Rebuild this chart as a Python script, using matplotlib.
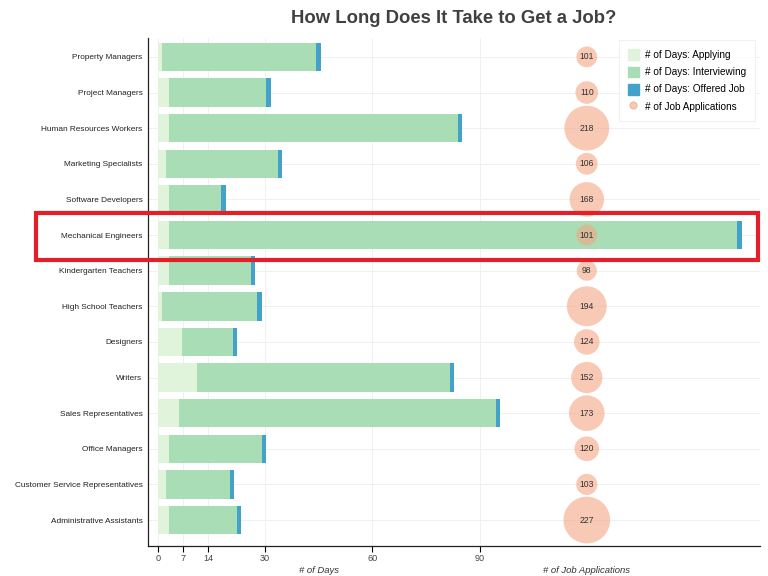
import matplotlib
matplotlib.use("Agg")
import matplotlib.pyplot as plt
import matplotlib.transforms as mtransforms
from matplotlib.patches import Rectangle, Patch
from matplotlib.lines import Line2D

plt.rcParams["font.family"] = ["Liberation Sans", "DejaVu Sans"]

# datos
jobs = ["Property Managers", "Project Managers", "Human Resources Workers",
        "Marketing Specialists", "Software Developers", "Mechanical Engineers",
        "Kindergarten Teachers", "High School Teachers", "Designers", "Writers",
        "Sales Representatives", "Office Managers",
        "Customer Service Representatives", "Administrative Assistants"]
applying = [1, 3, 3, 2.2, 3, 3, 3, 1, 6.7, 11, 6, 3, 2.2, 3]
interviewing = [43.3, 27.3, 81, 31.4, 14.7, 159, 23, 26.8, 14.3, 70.6, 88.5, 26, 18, 19]
offered = [1.2, 1.2, 1.2, 1.2, 1.2, 1.3, 1.2, 1.2, 1.2, 1.2, 1.2, 1.1, 1.1, 1.2]
applications = [101, 110, 218, 106, 168, 101, 98, 194, 124, 152, 173, 120, 103, 227]
apps_x = 120          # posición de la columna de burbujas (en días)
days_ticks = [0, 7, 14, 30, 60, 90]
highlight = "Mechanical Engineers"

c_apply = "#e0f3db"
c_interv = "#a8ddb5"
c_offer = "#43a2ca"
c_bubble = "#f4a582"

fig = plt.figure(figsize=(7.68, 5.76), dpi=100)
ax = fig.add_axes([0.1927, 0.052, 0.797, 0.882])

y = list(range(len(jobs)))
left2 = [a for a in applying]
left3 = [a + b for a, b in zip(applying, interviewing)]
h = 0.8
ax.barh(y, applying, height=h, color=c_apply, zorder=2)
ax.barh(y, interviewing, left=left2, height=h, color=c_interv, zorder=2)
ax.barh(y, offered, left=left3, height=h, color=c_offer, zorder=2)

# burbujas: radio proporcional al número de solicitudes
sizes = [(0.148 * v) ** 2 for v in applications]
ax.scatter([apps_x] * len(jobs), y, s=sizes, color=c_bubble, alpha=0.6,
           edgecolors="none", zorder=3)
for yi, v in zip(y, applications):
    ax.text(apps_x, yi, str(v), ha="center", va="center", fontsize=6.2,
            color="#333333", zorder=4)

ax.set_xlim(-2.8, 168.5)
ax.set_ylim(len(jobs) - 0.27, -0.53)
ax.set_yticks(y)
ax.set_yticklabels(jobs, fontsize=5.95, color="#222222")
ax.set_xticks(days_ticks)
ax.set_xticklabels([str(t) for t in days_ticks], fontsize=6.6, color="#444444")
ax.tick_params(axis="y", length=0, pad=4)
ax.tick_params(axis="x", length=4, width=0.8, direction="out", pad=2)
ax.grid(True, color="#eeeeee", linewidth=0.6, zorder=0)
ax.set_axisbelow(True)
for s in ["top", "right"]:
    ax.spines[s].set_visible(False)
for s in ["left", "bottom"]:
    ax.spines[s].set_linewidth(0.9)
    ax.spines[s].set_color("#222222")

tr = mtransforms.blended_transform_factory(ax.transData, ax.transAxes)
ax.text(45, -0.048, "# of Days", transform=tr, ha="center", va="center",
        fontsize=6.8, style="italic", color="#333333")
ax.text(apps_x, -0.048, "# of Job Applications", transform=tr, ha="center",
        va="center", fontsize=6.8, style="italic", color="#333333")

ax.set_title("How Long Does It Take to Get a Job?", fontsize=13.3,
             fontweight="bold", color="#404040", pad=11)

handles = [Patch(color=c_apply, label="# of Days: Applying"),
           Patch(color=c_interv, label="# of Days: Interviewing"),
           Patch(color=c_offer, label="# of Days: Offered Job"),
           Line2D([], [], marker="o", linestyle="", color=c_bubble, alpha=0.6,
                  markersize=5, label="# of Job Applications")]
leg = ax.legend(handles=handles, loc="upper right", fontsize=7.2,
                frameon=True, handlelength=1.1, handleheight=1.3,
                borderpad=0.9, labelspacing=0.62, handletextpad=0.6,
                bbox_to_anchor=(1.0, 1.005), fancybox=False)
leg.get_frame().set_edgecolor("#eeeeee")
leg.get_frame().set_linewidth(0.8)

# recuadro rojo resaltando una fila
hy = jobs.index(highlight)
trh = mtransforms.blended_transform_factory(fig.transFigure, ax.transData)
rect = Rectangle((0.047, hy - 0.62), 0.94, 1.31, transform=trh,
                 fill=False, edgecolor="#e3202a", linewidth=3, clip_on=False,
                 zorder=10)
fig.patches.append(rect)

fig.savefig("out.png", dpi=100)
